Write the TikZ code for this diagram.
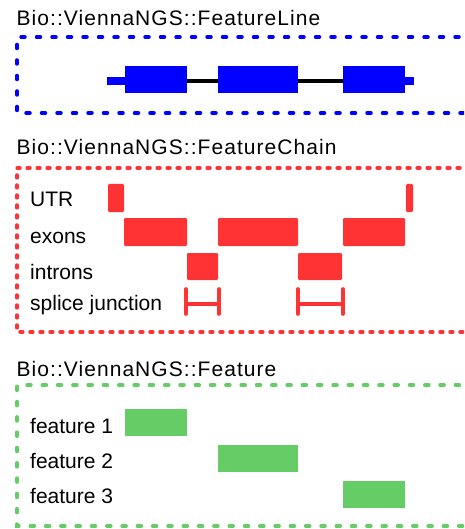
\documentclass[tikz,border=0pt]{standalone}
\usepackage{fontspec}
\setmainfont{Liberation Sans}
\newfontfamily\titlefont[LetterSpace=5]{Liberation Sans}
\definecolor{fblue}{HTML}{0000FF}
\definecolor{fred}{HTML}{FF3333}
\definecolor{fgreen}{HTML}{66CC66}
\begin{document}
\begin{tikzpicture}[x=1pt,y=-1pt,
  titletext/.style={anchor=base west,inner sep=0pt,font=\titlefont\fontsize{21}{24}\selectfont},
  labeltext/.style={anchor=base west,inner sep=0pt,font=\fontsize{21}{24}\selectfont},
  bluebox/.style={draw=fblue,line width=3.5pt,line cap=round,dash pattern=on 4pt off 11.5pt},
  redbox/.style={draw=fred,line width=3.5pt,line cap=round,dash pattern=on 2.8pt off 7.2pt},
  greenbox/.style={draw=fgreen,line width=3.5pt,line cap=round,dash pattern=on 4pt off 11.3pt},
  blueblock/.style={fill=fblue},
  redblock/.style={fill=fred,rounded corners=1.2pt},
  greenblock/.style={fill=fgreen},
  junction/.style={draw=fred,line width=3.6pt,line cap=round},
  intronline/.style={draw=black,line width=3.5pt}
]
\clip (0,0) rectangle (464,529);
\fill[white] (0,0) rectangle (464,529);

% ---------- FeatureLine ----------
\node[titletext] (t1) at (16.5,26) {Bio::ViennaNGS::FeatureLine};
\draw[bluebox] (490,37) -- (17,37) -- (17,113) -- (490,113);
\coordinate (ex1r) at (187,81);
\coordinate (ex2l) at (218,81);
\coordinate (ex2r) at (298,81);
\coordinate (ex3l) at (343,81);
\draw[intronline] (ex1r) -- (ex2l);
\draw[intronline] (ex2r) -- (ex3l);
\fill[blueblock] (107,77) rectangle (125,85);
\fill[blueblock] (125,66) rectangle (187,93);
\fill[blueblock] (218,66) rectangle (298,93);
\fill[blueblock] (343,66) rectangle (405,93);
\fill[blueblock] (405,77) rectangle (414,85);

% ---------- FeatureChain ----------
\node[titletext] (t2) at (16.5,155) {Bio::ViennaNGS::FeatureChain};
\draw[redbox] (490,168) -- (17,168) -- (17,332) -- (490,332);
\node[labeltext] (lutr) at (30,207) {UTR};
\node[labeltext] (lexon) at (30,243) {exons};
\node[labeltext] (lintron) at (30,279) {introns};
\node[labeltext] (lsplice) at (30,310) {splice junction};
\fill[redblock] (108,184) rectangle (124,212);
\fill[redblock] (406,184) rectangle (413,212);
\fill[redblock] (124,218) rectangle (187,246);
\fill[redblock] (218,218) rectangle (298,246);
\fill[redblock] (343,218) rectangle (405,246);
\fill[redblock] (187,253) rectangle (218,280);
\fill[redblock] (298,253) rectangle (342,280);
\coordinate (sj1a) at (186,304);
\coordinate (sj1b) at (219,304);
\coordinate (sj2a) at (298,304);
\coordinate (sj2b) at (343,304);
\draw[junction] (186,289) -- (186,314) (219,289) -- (219,314);
\draw[junction] (sj1a) -- (sj1b);
\draw[junction] (298,289) -- (298,314) (343,289) -- (343,314);
\draw[junction] (sj2a) -- (sj2b);

% ---------- Feature ----------
\node[titletext] (t3) at (16.5,376) {Bio::ViennaNGS::Feature};
\draw[greenbox] (490,385) -- (17,385) -- (17,526) -- (490,526);
\node[labeltext] (lf1) at (30,433) {feature 1};
\node[labeltext] (lf2) at (30,468) {feature 2};
\node[labeltext] (lf3) at (30,503) {feature 3};
\fill[greenblock] (125,409) rectangle (187,436);
\fill[greenblock] (218,445) rectangle (298,472);
\fill[greenblock] (343,481) rectangle (405,508);
\end{tikzpicture}
\end{document}
